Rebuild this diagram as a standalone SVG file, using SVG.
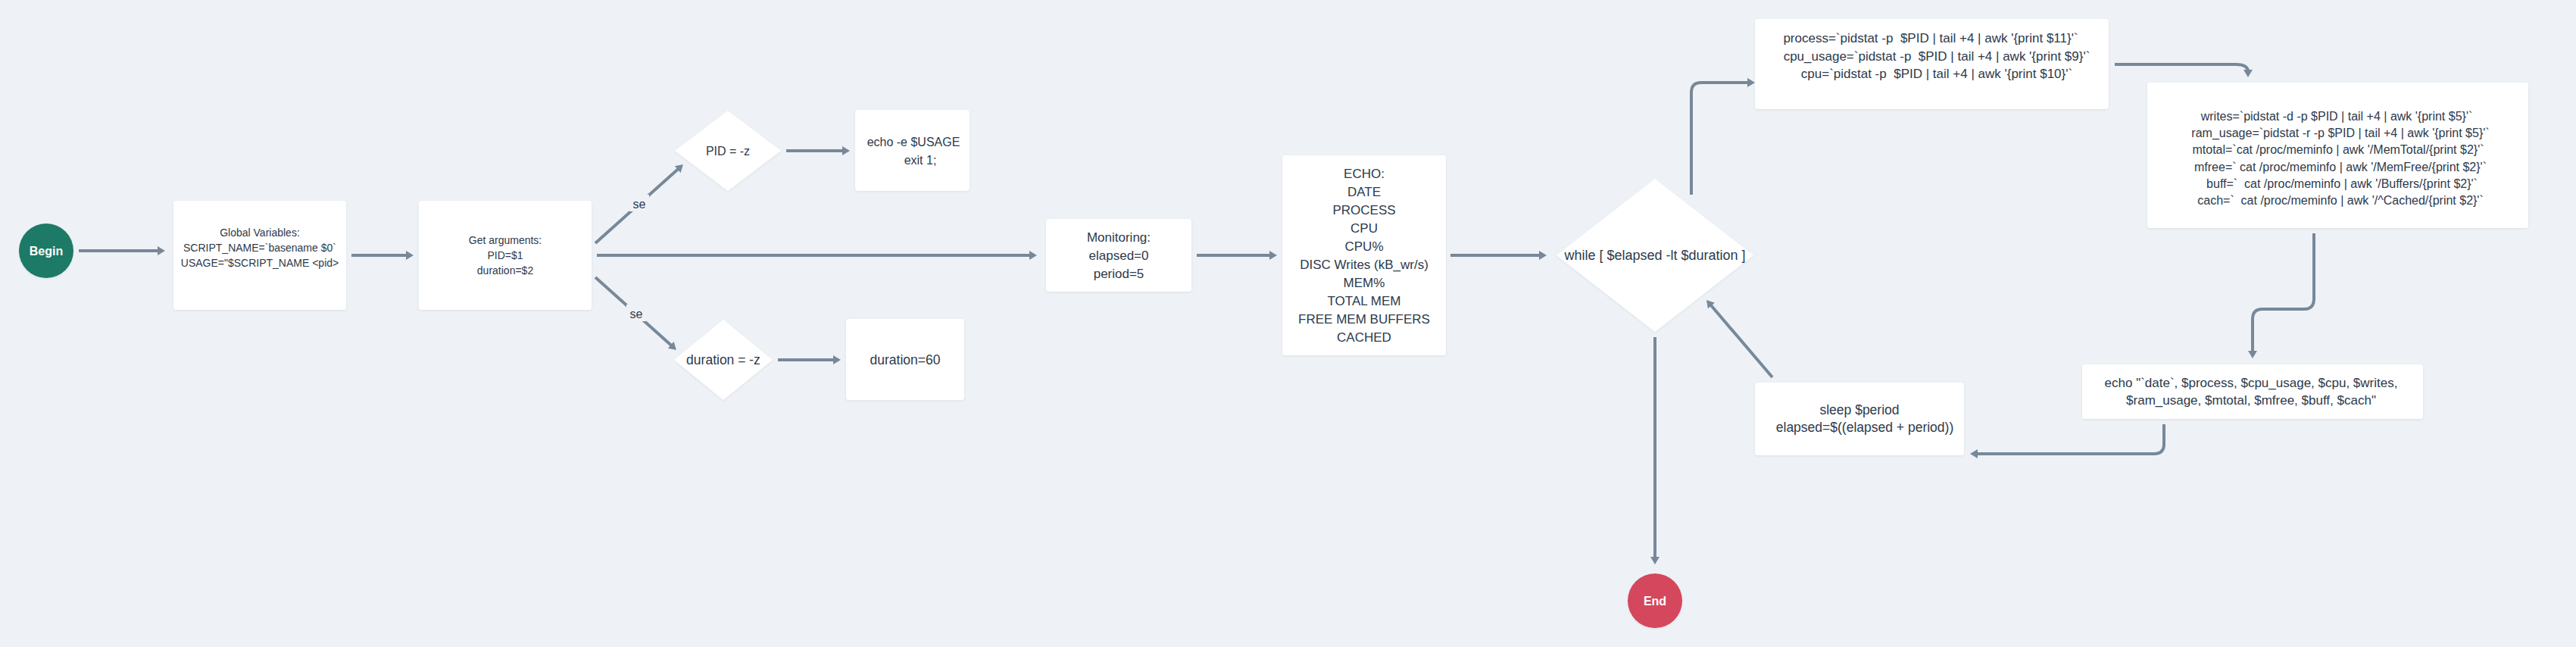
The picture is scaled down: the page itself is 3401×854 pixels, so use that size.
<svg xmlns="http://www.w3.org/2000/svg" width="3401" height="854" viewBox="0 0 3401 854">
<style>
.bg{fill:#eef2f6}
.box{fill:#ffffff;filter:url(#sh)}
.t{font-family:"Liberation Sans",Arial,sans-serif;fill:#2d3a4b;text-anchor:middle;white-space:pre}
.s14{font-size:14px}
.s16{font-size:16px}
.s17{font-size:17px}
.s175{font-size:17.5px}
.s18{font-size:18px}
.cw{font-family:"Liberation Sans",Arial,sans-serif;fill:#ffffff;text-anchor:middle;font-weight:bold;font-size:16px}
.c{fill:none;stroke:#788899;stroke-width:4;marker-end:url(#ah)}
.lbl{fill:#eef2f6}
</style>
<defs>
<filter id="sh" x="-10%" y="-10%" width="120%" height="130%">
<feDropShadow dx="0" dy="1" stdDeviation="1.5" flood-color="#000" flood-opacity="0.08"/>
</filter>
<marker id="ah" viewBox="0 0 10 12" refX="3" refY="6" markerWidth="10" markerHeight="12" markerUnits="userSpaceOnUse" orient="auto">
<path d="M0,0 L10,6 L0,12 z" fill="#788899"/>
</marker>
</defs>
<rect class="bg" x="0" y="0" width="3401" height="854"/>

<g id="connectors">
<path class="c" d="M104,331 H211"/>
<path class="c" d="M464,337 H539"/>
<path class="c" d="M786,321 L896.8,221.7"/>
<path class="c" d="M788,337 H1362"/>
<path class="c" d="M786,366 L887.8,457.3"/>
<path class="c" d="M1038,199 H1115"/>
<path class="c" d="M1027,475 H1103"/>
<path class="c" d="M1580,337 H1679"/>
<path class="c" d="M1915,337 H2035"/>
<path class="c" d="M2233,257 V122 Q2233,109 2246,109 H2310"/>
<path class="c" d="M2792,85 H2952 Q2968,85 2968,95"/>
<path class="c" d="M3055,308 V395 Q3055,408 3042,408 H2987 Q2974,408 2974,421 V466"/>
<path class="c" d="M2857,560 V586 Q2857,599 2844,599 H2608"/>
<path class="c" d="M2340,498 L2257.5,401.3"/>
<path class="c" d="M2185,445 V738"/>
<rect class="lbl" x="831" y="257" width="26" height="22"/>
<text class="t s16" x="844" y="275">se</text>
<rect class="lbl" x="827" y="402" width="26" height="22"/>
<text class="t s16" x="840" y="420">se</text>
</g>

<g id="begin">
<circle cx="61" cy="331" r="36" fill="#1f7a66" filter="url(#sh)"/>
<text class="cw" x="61" y="337">Begin</text>
</g>

<g id="global">
<rect class="box" x="229" y="265" width="228" height="144" rx="4"/>
<text class="t s14" x="343" y="312">Global Variables:</text>
<text class="t s14" x="343" y="332">SCRIPT_NAME=`basename $0`</text>
<text class="t s14" x="343" y="352">USAGE="$SCRIPT_NAME &lt;pid&gt;</text>
</g>

<g id="getargs">
<rect class="box" x="553" y="265" width="228" height="144" rx="4"/>
<text class="t s14" x="667" y="322">Get arguments:</text>
<text class="t s14" x="667" y="342">PID=$1</text>
<text class="t s14" x="667" y="362">duration=$2</text>
</g>

<g id="pidcheck">
<polygon class="box" points="961,146 1031,199 961,252 891,199"/>
<text class="t s16" x="961" y="205">PID = -z</text>
</g>

<g id="usage">
<rect class="box" x="1129" y="145" width="151" height="107" rx="4"/>
<text class="t s16" x="1206" y="193">echo -e $USAGE</text>
<text class="t s16" x="1215" y="217">exit 1;</text>
</g>

<g id="durcheck">
<polygon class="box" points="955,422 1020,475 955,528 890,475"/>
<text class="t s175" x="955" y="481">duration = -z</text>
</g>

<g id="durdefault">
<rect class="box" x="1117" y="421" width="156" height="107" rx="4"/>
<text class="t s175" x="1195" y="481">duration=60</text>
</g>

<g id="monitoring">
<rect class="box" x="1381" y="289" width="192" height="96" rx="4"/>
<text class="t s17" x="1477" y="319">Monitoring:</text>
<text class="t s17" x="1477" y="343">elapsed=0</text>
<text class="t s17" x="1477" y="367">period=5</text>
</g>

<g id="echoheader">
<rect class="box" x="1693" y="205" width="216" height="264" rx="4"/>
<text class="t s17" x="1801" y="235">ECHO:</text>
<text class="t s17" x="1801" y="259">DATE</text>
<text class="t s17" x="1801" y="283">PROCESS</text>
<text class="t s17" x="1801" y="307">CPU</text>
<text class="t s17" x="1801" y="331">CPU%</text>
<text class="t s17" x="1801" y="355">DISC Writes (kB_wr/s)</text>
<text class="t s17" x="1801" y="379">MEM%</text>
<text class="t s17" x="1801" y="403">TOTAL MEM</text>
<text class="t s17" x="1801" y="427">FREE MEM BUFFERS</text>
<text class="t s17" x="1801" y="451">CACHED</text>
</g>

<g id="while">
<polygon class="box" points="2185,236 2315,337 2185,438 2055,337"/>
<text class="t s18" x="2185" y="343">while [ $elapsed -lt $duration ]</text>
</g>

<g id="pidstat">
<rect class="box" x="2317" y="25" width="467" height="119" rx="4"/>
<text class="t s17" x="2549" y="56">process=`pidstat -p  $PID | tail +4 | awk '{print $11}'`</text>
<text class="t s17" x="2557" y="80">cpu_usage=`pidstat -p  $PID | tail +4 | awk '{print $9}'`</text>
<text class="t s17" x="2557" y="103">cpu=`pidstat -p  $PID | tail +4 | awk '{print $10}'`</text>
</g>

<g id="meminfo">
<rect class="box" x="2835" y="109" width="503" height="192" rx="4"/>
<text class="t s16" x="3085" y="159">writes=`pidstat -d -p $PID | tail +4 | awk '{print $5}'`</text>
<text class="t s16" x="3090" y="181">ram_usage=`pidstat -r -p $PID | tail +4 | awk '{print $5}'`</text>
<text class="t s16" x="3087" y="203">mtotal=`cat /proc/meminfo | awk '/MemTotal/{print $2}'`</text>
<text class="t s16" x="3090" y="226">mfree=` cat /proc/meminfo | awk '/MemFree/{print $2}'`</text>
<text class="t s16" x="3092" y="248">buff=`  cat /proc/meminfo | awk '/Buffers/{print $2}'`</text>
<text class="t s16" x="3090" y="270">cach=`  cat /proc/meminfo | awk '/^Cached/{print $2}'`</text>
</g>

<g id="echoline">
<rect class="box" x="2749" y="481" width="450" height="72" rx="4"/>
<text class="t s17" x="2972" y="511">echo "`date`, $process, $cpu_usage, $cpu, $writes,</text>
<text class="t s17" x="2972" y="534">$ram_usage, $mtotal, $mfree, $buff, $cach"</text>
</g>

<g id="sleep">
<rect class="box" x="2317" y="505" width="276" height="96" rx="4"/>
<text class="t s175" x="2455" y="547">sleep $period</text>
<text class="t s175" x="2462" y="570">elapsed=$((elapsed + period))</text>
</g>

<g id="end">
<circle cx="2185" cy="793" r="36" fill="#d4465b" filter="url(#sh)"/>
<text class="cw" x="2185" y="799">End</text>
</g>
</svg>
